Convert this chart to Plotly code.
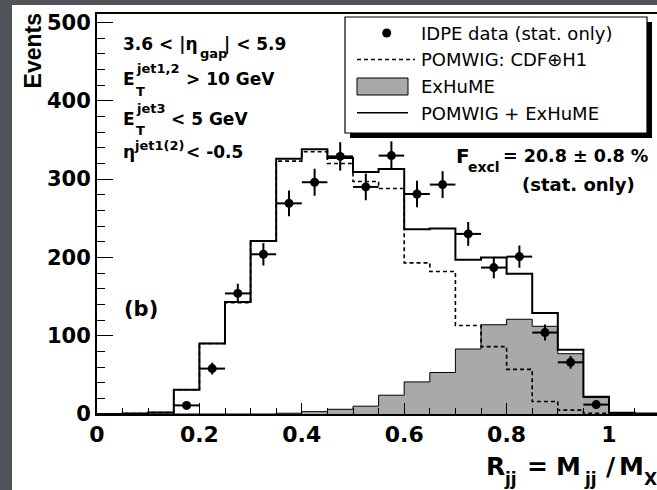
import plotly.graph_objects as go

# ---------------- data ----------------
bin_edges = [0.0, 0.05, 0.1, 0.15, 0.2, 0.25, 0.3, 0.35, 0.4, 0.45, 0.5, 0.55,
             0.6, 0.65, 0.7, 0.75, 0.8, 0.85, 0.9, 0.95, 1.0, 1.05, 1.1]
pomwig_exhume = [0, 0.5, 2, 31, 90, 143, 221, 326, 338, 327, 309, 313,
                 236, 237, 197, 200, 179, 129, 82, 22, 1.5, 0.5]
pomwig = [0, 0.5, 2, 31, 90, 142, 221, 323, 335, 320, 297, 288,
          193, 182, 113, 86, 57, 16, 5, 1, 0.5, 0]
exhume = [0, 0, 0, 0, 0, 0, 0, 1, 3, 6, 10, 24,
          41, 53, 83, 114, 121, 112, 77, 21, 1, 0.5]
data_x = [0.175, 0.225, 0.275, 0.325, 0.375, 0.425, 0.475, 0.525, 0.575,
          0.625, 0.675, 0.725, 0.775, 0.825, 0.875, 0.925, 0.975]
data_y = [11, 58, 154, 204, 269, 296, 329, 290, 330,
          281, 293, 230, 187, 201, 104, 66, 12]
data_err = [3.3, 7.6, 12.4, 14.3, 16.4, 17.2, 18.1, 17.0, 18.2,
            16.8, 17.1, 15.2, 13.7, 14.2, 10.2, 8.1, 3.5]
data_xerr = [0.025] * len(data_x)
x_tick_vals = [0, 0.2, 0.4, 0.6, 0.8, 1.0]
x_tick_text = ["0", "0.2", "0.4", "0.6", "0.8", "1"]
y_tick_vals = [0, 100, 200, 300, 400, 500]
legend_labels = ["IDPE data (stat. only)", "POMWIG: CDF\u2295H1", "ExHuME", "POMWIG + ExHuME"]

# ---------------- layout geometry ----------------
W, H = 657, 490
L, R, T, B = 97, 0, 14, 76
PW, PH = W - L - R, H - T - B
BOLD = "DejaVu Sans"
GREY_BG = "#50535a"
FILL = "#a9a9a9"


def px2x(px):
    return (px - L) / PW


def px2y(py):
    return (T + PH - py) / PH


def step(vals):
    return list(vals) + [vals[-1]]


fig = go.Figure()

fig.add_trace(go.Scatter(x=bin_edges, y=step(exhume), mode="lines", line_shape="hv",
                         fill="tozeroy", fillcolor=FILL,
                         line=dict(color="black", width=1), name="ExHuME",
                         showlegend=False, hoverinfo="skip"))
fig.add_trace(go.Scatter(x=bin_edges, y=step(pomwig), mode="lines", line_shape="hv",
                         line=dict(color="black", width=1.6, dash="4px,3px"),
                         name="POMWIG: CDF\u2295H1", showlegend=False))
fig.add_trace(go.Scatter(x=bin_edges, y=step(pomwig_exhume), mode="lines", line_shape="hv",
                         line=dict(color="black", width=2),
                         name="POMWIG + ExHuME", showlegend=False))
fig.add_trace(go.Scatter(x=data_x, y=data_y, mode="markers",
                         marker=dict(color="black", size=9),
                         error_x=dict(type="data", array=data_xerr, color="black",
                                      thickness=2, width=0),
                         error_y=dict(type="data", array=data_err, color="black",
                                      thickness=2, width=0),
                         name="IDPE data (stat. only)", showlegend=False))

shapes = []
# white panel on the grey slide background
shapes.append(dict(type="rect", xref="paper", yref="paper", layer="below",
                   x0=px2x(12), x1=px2x(W + 2), y0=px2y(H + 2), y1=px2y(5),
                   fillcolor="white", line=dict(width=0)))
# legend shadow and box
shapes.append(dict(type="rect", xref="paper", yref="paper", layer="above",
                   x0=px2x(350), x1=px2x(652), y0=px2y(138), y1=px2y(22),
                   fillcolor="black", line=dict(width=0)))
shapes.append(dict(type="rect", xref="paper", yref="paper", layer="above",
                   x0=px2x(345), x1=px2x(647), y0=px2y(133), y1=px2y(17),
                   fillcolor="white", line=dict(color="black", width=1.2)))
# legend symbols
shapes.append(dict(type="circle", xref="paper", yref="paper", layer="above",
                   x0=px2x(382.2), x1=px2x(391.2), y0=px2y(37.5), y1=px2y(28.5),
                   fillcolor="black", line=dict(color="black", width=0)))
shapes.append(dict(type="line", xref="paper", yref="paper", layer="above",
                   x0=px2x(357), x1=px2x(415), y0=px2y(59.5), y1=px2y(59.5),
                   line=dict(color="black", width=1.3, dash="4px,3px")))
shapes.append(dict(type="rect", xref="paper", yref="paper", layer="above",
                   x0=px2x(357), x1=px2x(408), y0=px2y(95), y1=px2y(78),
                   fillcolor=FILL, line=dict(color="black", width=1)))
shapes.append(dict(type="line", xref="paper", yref="paper", layer="above",
                   x0=px2x(357), x1=px2x(408), y0=px2y(112.7), y1=px2y(112.7),
                   line=dict(color="black", width=1.5)))


def txt(s, px, baseline, size, bold=True, anchor="left", family=BOLD):
    top = baseline - 0.928 * size
    return dict(x=px2x(px), y=px2y(top), xref="paper", yref="paper",
                xanchor=anchor, yanchor="top", text=s, showarrow=False,
                borderpad=0,
                font=dict(family=family, size=size, color="black",
                          weight="bold" if bold else "normal"))


ann = []
# selection cuts
ann.append(txt("3.6 < |\u03b7", 122, 49, 17))
ann.append(txt("gap", 199, 57, 13))
ann.append(txt("| < 5.9", 223, 49, 17))
ann.append(txt("E", 122, 84, 17))
ann.append(txt("T", 135, 95.5, 13))
ann.append(txt("jet1,2", 135, 72, 13))
ann.append(txt("> 10 GeV", 185, 84, 17))
ann.append(txt("E", 122, 124, 17))
ann.append(txt("T", 135, 134, 13))
ann.append(txt("jet3", 135, 112, 13))
ann.append(txt("< 5 GeV", 170, 124, 17))
ann.append(txt("\u03b7", 122, 157, 17))
ann.append(txt("jet1(2)", 133, 149, 13))
ann.append(txt("< -0.5", 185, 157, 17))
# F_excl
ann.append(txt("F", 455, 161.7, 20))
ann.append(txt("excl", 467, 171, 14))
ann.append(txt("= 20.8 \u00b1 0.8 %", 649, 161.7, 17.5, anchor="right"))
ann.append(txt("(stat. only)", 578, 190, 18, anchor="center"))
# panel label
ann.append(txt("(b)", 123, 315, 21))
# legend labels
for lab, bl in zip(legend_labels, [38.3, 65, 91.7, 118.3]):
    ann.append(txt(lab, 420, bl, 18, bold=False))
# x-axis title pieces
ann.append(txt("R", 485, 474, 25))
ann.append(txt("jj", 503, 484, 17))
ann.append(txt("=", 526, 474, 25))
ann.append(txt("M", 555, 474, 25))
ann.append(txt("jj", 583, 484, 17))
ann.append(txt("/", 605, 474, 25))
ann.append(txt("M", 618, 474, 25))
ann.append(txt("X", 643, 484, 17))
# y-axis title
ann.append(dict(x=px2x(33.4), y=px2y(51), xref="paper", yref="paper",
                xanchor="center", yanchor="middle", text="Events", textangle=-90,
                showarrow=False, borderpad=0,
                font=dict(family="Liberation Sans", size=23, color="black", weight="bold")))

fig.update_layout(
    width=W, height=H, autosize=False,
    margin=dict(l=L, r=R, t=T, b=B, pad=0),
    paper_bgcolor=GREY_BG, plot_bgcolor="white",
    showlegend=False,
    shapes=shapes, annotations=ann,
    xaxis=dict(range=[0, PW / 512.0], showgrid=False, zeroline=False,
               showline=True, linecolor="black", linewidth=2, mirror=True,
               ticks="inside", ticklen=11, tickwidth=1.2, tickcolor="black",
               tickvals=x_tick_vals, ticktext=x_tick_text,
               tickfont=dict(family=BOLD, size=22, color="black", weight="bold"),
               minor=dict(dtick=0.05, tick0=0, ticks="inside", ticklen=6,
                          tickwidth=1.2, tickcolor="black"),
               ticklabelstandoff=0),
    yaxis=dict(range=[0, PH / 0.783], showgrid=False, zeroline=False,
               showline=True, linecolor="black", linewidth=2, mirror=False,
               ticks="inside", ticklen=16, tickwidth=1.2, tickcolor="black",
               tickvals=y_tick_vals,
               tickfont=dict(family=BOLD, size=21, color="black", weight="bold"),
               minor=dict(dtick=20, tick0=0, ticks="inside", ticklen=8,
                          tickwidth=1.2, tickcolor="black")),
)

fig.write_html("out.html", config={"displayModeBar": False},
               post_script="document.body.style.margin='0';document.body.style.overflow='hidden';")
